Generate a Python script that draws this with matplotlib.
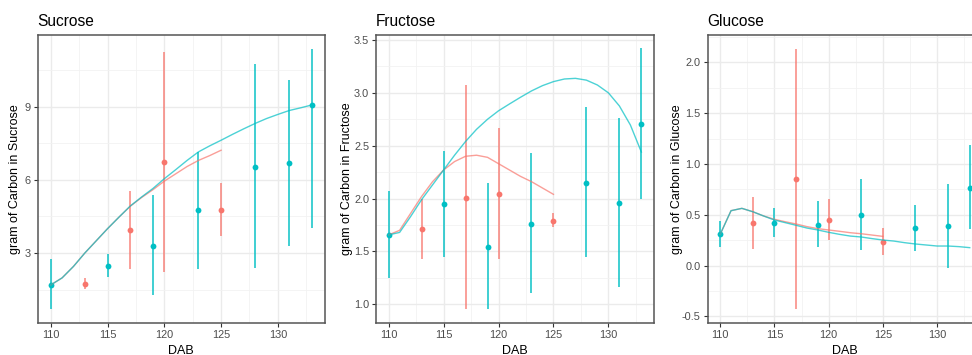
import matplotlib
matplotlib.use("Agg")
import matplotlib.pyplot as plt
from matplotlib.ticker import MultipleLocator, FormatStrFormatter

plt.rcParams['font.family'] = ['Liberation Sans', 'DejaVu Sans']
plt.rcParams['axes.unicode_minus'] = False

# ---------------- data ----------------
dab_cyan = [110, 115, 119, 123, 128, 131, 133]
dab_red = [113, 117, 120, 125]

# Sucrose
suc_cyan_mean = [1.69, 2.47, 3.29, 4.75, 6.54, 6.68, 9.07]
suc_cyan_lo = [0.69, 2.00, 1.28, 2.33, 2.37, 3.30, 4.04]
suc_cyan_hi = [2.75, 2.95, 5.38, 7.15, 10.78, 10.09, 11.39]
suc_red_mean = [1.73, 3.94, 6.74, 4.78]
suc_red_lo = [1.51, 2.36, 2.23, 3.70]
suc_red_hi = [1.96, 5.55, 11.26, 5.88]

# Fructose
fru_cyan_mean = [1.653, 1.946, 1.545, 1.763, 2.151, 1.955, 2.702]
fru_cyan_lo = [1.246, 1.444, 0.953, 1.110, 1.448, 1.161, 1.996]
fru_cyan_hi = [2.075, 2.453, 2.144, 2.431, 2.866, 2.762, 3.421]
fru_red_mean = [1.71, 2.006, 2.04, 1.788]
fru_red_lo = [1.432, 0.953, 1.426, 1.728]
fru_red_hi = [1.996, 3.071, 2.668, 1.861]

# Glucose
glu_cyan_mean = [0.307, 0.422, 0.402, 0.497, 0.369, 0.386, 0.763]
glu_cyan_lo = [0.179, 0.278, 0.179, 0.153, 0.147, -0.021, 0.356]
glu_cyan_hi = [0.439, 0.563, 0.635, 0.851, 0.596, 0.802, 1.186]
glu_red_mean = [0.422, 0.848, 0.448, 0.235]
glu_red_lo = [0.160, -0.431, 0.251, 0.104]
glu_red_hi = [0.678, 2.137, 0.652, 0.366]

# smoothed trend lines
smooth_dab_cyan = [110, 111, 112, 113, 114, 115, 116, 117, 118, 119, 120, 121,
                   122, 123, 124, 125, 126, 127, 128, 129, 130, 131, 132, 133]
smooth_dab_red = [110, 111, 112, 113, 114, 115, 116, 117, 118, 119, 120, 121,
                  122, 123, 124, 125]

suc_cyan_smooth = [1.69, 1.98, 2.45, 3.00, 3.50, 4.00, 4.47, 4.93, 5.30, 5.65,
                   6.05, 6.42, 6.80, 7.15, 7.40, 7.63, 7.87, 8.10, 8.32, 8.52,
                   8.69, 8.85, 8.96, 9.08]
suc_red_smooth = [1.69, 1.98, 2.45, 3.00, 3.50, 4.00, 4.47, 4.92, 5.28, 5.60,
                  5.95, 6.25, 6.55, 6.80, 7.00, 7.22]

fru_cyan_smooth = [1.656, 1.68, 1.83, 1.99, 2.13, 2.27, 2.41, 2.54, 2.655, 2.75,
                   2.83, 2.895, 2.958, 3.018, 3.068, 3.106, 3.131, 3.137, 3.12,
                   3.074, 3.0, 2.876, 2.696, 2.44]
fru_red_smooth = [1.656, 1.70, 1.86, 2.02, 2.16, 2.27, 2.35, 2.40, 2.41, 2.39,
                  2.33, 2.27, 2.21, 2.16, 2.10, 2.04]

glu_cyan_smooth = [0.307, 0.54, 0.563, 0.53, 0.488, 0.448, 0.422, 0.396, 0.369,
                   0.35, 0.327, 0.307, 0.29, 0.281, 0.265, 0.251, 0.241, 0.225,
                   0.212, 0.202, 0.192, 0.192, 0.186, 0.176]
glu_red_smooth = [0.307, 0.54, 0.563, 0.53, 0.488, 0.455, 0.431, 0.409, 0.383,
                  0.363, 0.35, 0.337, 0.323, 0.313, 0.30, 0.287]

titles = ["Sucrose", "Fructose", "Glucose"]
ylabels = ["gram of Carbon in Sucrose", "gram of Carbon in Fructose",
           "gram of Carbon in Glucose"]

# ---------------- style ----------------
CYAN = "#00BFC4"
RED = "#F8766D"
W, H = 972, 355

fig = plt.figure(figsize=(W / 100, H / 100), dpi=100)


def axes_px(l, r, t, b):
    return fig.add_axes([l / W, 1 - b / H, (r - l) / W, (b - t) / H])


panels = [
    dict(box=(37.7, 325, 35, 322.7), ylim=(0.14, 11.95), major=3, minor=1.5,
         fmt="%d", ylab_x=15,
         data=(suc_cyan_mean, suc_cyan_lo, suc_cyan_hi, suc_red_mean, suc_red_lo,
               suc_red_hi, suc_cyan_smooth, suc_red_smooth)),
    dict(box=(376, 654, 35, 322.7), ylim=(0.826, 3.547), major=0.5, minor=0.25,
         fmt="%.1f", ylab_x=347,
         data=(fru_cyan_mean, fru_cyan_lo, fru_cyan_hi, fru_red_mean, fru_red_lo,
               fru_red_hi, fru_cyan_smooth, fru_red_smooth)),
    dict(box=(707.7, 982.2, 35, 322.7), ylim=(-0.563, 2.27), major=0.5, minor=0.25,
         fmt="%.1f", ylab_x=677,
         data=(glu_cyan_mean, glu_cyan_lo, glu_cyan_hi, glu_red_mean, glu_red_lo,
               glu_red_hi, glu_cyan_smooth, glu_red_smooth)),
]

for i, p in enumerate(panels):
    l, r, t, b = p["box"]
    ax = axes_px(l, r, t, b)
    cm, clo, chi, rm, rlo, rhi, cs, rs = p["data"]

    ax.set_xlim(108.85, 134.15)
    ax.set_ylim(*p["ylim"])
    ax.xaxis.set_major_locator(MultipleLocator(5))
    ax.xaxis.set_minor_locator(MultipleLocator(2.5))
    ax.yaxis.set_major_locator(MultipleLocator(p["major"]))
    ax.yaxis.set_minor_locator(MultipleLocator(p["minor"]))
    ax.yaxis.set_major_formatter(FormatStrFormatter(p["fmt"]))

    ax.grid(which="major", color="#EBEBEB", lw=1.0, zorder=0)
    ax.grid(which="minor", color="#F2F2F2", lw=0.6, zorder=0)
    ax.set_axisbelow(True)
    ax.tick_params(which="minor", length=0)
    ax.tick_params(which="major", length=2.75, width=0.8, color="#333333",
                   labelcolor="#4D4D4D", labelsize=7.9, pad=2.2)
    for s in ax.spines.values():
        s.set_color("#555555")
        s.set_linewidth(1.1)

    # error bars and points
    ax.vlines(dab_cyan, clo, chi, colors=CYAN, lw=1.4, alpha=0.75, zorder=2)
    ax.vlines(dab_red, rlo, rhi, colors=RED, lw=1.4, alpha=0.7, zorder=2)
    ax.plot(dab_cyan, cm, "o", color=CYAN, ms=4.2, mew=0, zorder=3)
    ax.plot(dab_red, rm, "o", color=RED, ms=4.2, mew=0, zorder=3)

    # smooth lines
    ax.plot(smooth_dab_red, rs, color=RED, lw=1.0, alpha=0.7, zorder=4)
    ax.plot(smooth_dab_cyan, cs, color=CYAN, lw=1.0, alpha=0.7, zorder=4)

    fig.text(l / W, 1 - 26 / H, titles[i], fontsize=11.2, color="black",
             ha="left", va="baseline")
    fig.text(((l + r) / 2) / W, 1.2 / H, "DAB",
             fontsize=9, ha="center", va="baseline", color="black")
    fig.text(p["ylab_x"] / W, 1 - ((t + b) / 2) / H, ylabels[i], fontsize=9,
             rotation=90, ha="center", va="center", color="black")

fig.savefig("out.png", dpi=100)
